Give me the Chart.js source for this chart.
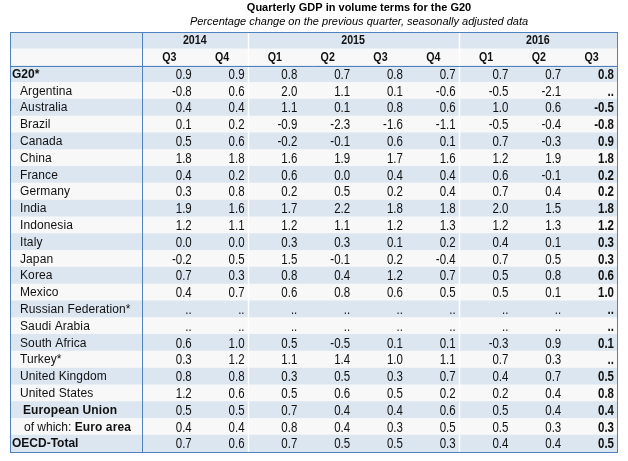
<!DOCTYPE html>
<html>
<head>
<meta charset="utf-8">
<script src="https://cdn.jsdelivr.net/npm/chart.js@4.4.1/dist/chart.umd.min.js"></script>
<style>
  html, body { margin: 0; padding: 0; background: #fff; }
  #wrap { width: 628px; height: 461px; }
</style>
</head>
<body>
<div id="wrap"><canvas id="gdpTable"></canvas></div>
<script>
// table header
const title = 'Quarterly GDP in volume terms for the G20';
const subtitle = 'Percentage change on the previous quarter, seasonally adjusted data';
const years = ['2014', '2015', '2016'];
const yearSpans = [2, 4, 3];
const quarters = ['Q3', 'Q4', 'Q1', 'Q2', 'Q3', 'Q4', 'Q1', 'Q2', 'Q3'];

// rows
const countries = [
  'G20*', 'Argentina', 'Australia', 'Brazil', 'Canada', 'China', 'France', 'Germany',
  'India', 'Indonesia', 'Italy', 'Japan', 'Korea', 'Mexico', 'Russian Federation*',
  'Saudi Arabia', 'South Africa', 'Turkey*', 'United Kingdom', 'United States',
  'European Union', 'Euro area', 'OECD-Total'
];

// values per quarter, null = not available ("..")
const q3_2014 = [0.9, -0.8, 0.4, 0.1, 0.5, 1.8, 0.4, 0.3, 1.9, 1.2, 0.0, -0.2, 0.7, 0.4, null, null, 0.6, 0.3, 0.8, 1.2, 0.5, 0.4, 0.7];
const q4_2014 = [0.9, 0.6, 0.4, 0.2, 0.6, 1.8, 0.2, 0.8, 1.6, 1.1, 0.0, 0.5, 0.3, 0.7, null, null, 1.0, 1.2, 0.8, 0.6, 0.5, 0.4, 0.6];
const q1_2015 = [0.8, 2.0, 1.1, -0.9, -0.2, 1.6, 0.6, 0.2, 1.7, 1.2, 0.3, 1.5, 0.8, 0.6, null, null, 0.5, 1.1, 0.3, 0.5, 0.7, 0.8, 0.7];
const q2_2015 = [0.7, 1.1, 0.1, -2.3, -0.1, 1.9, 0.0, 0.5, 2.2, 1.1, 0.3, -0.1, 0.4, 0.8, null, null, -0.5, 1.4, 0.5, 0.6, 0.4, 0.4, 0.5];
const q3_2015 = [0.8, 0.1, 0.8, -1.6, 0.6, 1.7, 0.4, 0.2, 1.8, 1.2, 0.1, 0.2, 1.2, 0.6, null, null, 0.1, 1.0, 0.3, 0.5, 0.4, 0.3, 0.5];
const q4_2015 = [0.7, -0.6, 0.6, -1.1, 0.1, 1.6, 0.4, 0.4, 1.8, 1.3, 0.2, -0.4, 0.7, 0.5, null, null, 0.1, 1.1, 0.7, 0.2, 0.6, 0.5, 0.3];
const q1_2016 = [0.7, -0.5, 1.0, -0.5, 0.7, 1.2, 0.6, 0.7, 2.0, 1.2, 0.4, 0.7, 0.5, 0.5, null, null, -0.3, 0.7, 0.4, 0.2, 0.5, 0.5, 0.4];
const q2_2016 = [0.7, -2.1, 0.6, -0.4, -0.3, 1.9, -0.1, 0.4, 1.5, 1.3, 0.1, 0.5, 0.8, 0.1, null, null, 0.9, 0.3, 0.7, 0.4, 0.4, 0.3, 0.4];
const q3_2016 = [0.8, null, -0.5, -0.8, 0.9, 1.8, 0.2, 0.2, 1.8, 1.2, 0.3, 0.3, 0.6, 1.0, null, null, 0.1, null, 0.5, 0.8, 0.4, 0.3, 0.5];

const columns = [q3_2014, q4_2014, q1_2015, q2_2015, q3_2015, q4_2015, q1_2016, q2_2016, q3_2016];

const LABEL_COL = -2.5; // label column width, in data-column units
const BLUE = '#4f81bd';
const TXT_FONT = '"Liberation Sans", Arial, sans-serif';
const NARROW = 0.82; // Arial Narrow is Arial squeezed to ~82 %

const rowKeys = ['year', 'quarter'].concat(countries);

// no narrow face installed, so squeeze the regular one
function narrowText(ctx, txt, px, py, align) {
  ctx.save();
  ctx.translate(px, py);
  ctx.scale(NARROW, 1);
  ctx.textAlign = align;
  ctx.fillText(txt, 0, 0);
  ctx.restore();
}

const tablePlugin = {
  id: 'tablePlugin',
  afterDatasetsDraw(chart) {
    const { ctx, scales: { x, y }, chartArea: a } = chart;
    const rowH = y.getPixelForValue(1) - y.getPixelForValue(0);
    ctx.save();

    // white separators between the years
    ctx.strokeStyle = '#ffffff';
    ctx.lineWidth = 1.5;
    let s = 0;
    yearSpans.slice(0, -1).forEach(span => {
      s += span;
      const px = Math.round(x.getPixelForValue(s)) + 0.5;
      ctx.beginPath(); ctx.moveTo(px, a.top); ctx.lineTo(px, a.bottom); ctx.stroke();
    });

    // blue lines: label column, header bottom, outer frame
    ctx.strokeStyle = BLUE;
    ctx.lineWidth = 1;
    const lx = Math.round(x.getPixelForValue(0)) + 0.5;
    ctx.beginPath(); ctx.moveTo(lx, a.top); ctx.lineTo(lx, a.bottom); ctx.stroke();
    const hy = Math.round(y.getPixelForValue(1) + rowH / 2) + 0.5;
    ctx.beginPath(); ctx.moveTo(a.left, hy); ctx.lineTo(a.right, hy); ctx.stroke();
    ctx.strokeRect(Math.round(a.left) + 0.5, Math.round(a.top) + 0.5,
      Math.round(a.right - a.left), Math.round(a.bottom - a.top));

    ctx.fillStyle = '#111111';
    ctx.textBaseline = 'middle';

    // year row
    ctx.font = 'bold 13px ' + TXT_FONT;
    s = 0;
    years.forEach((yr, i) => {
      const cx = (x.getPixelForValue(s) + x.getPixelForValue(s + yearSpans[i])) / 2;
      narrowText(ctx, yr, cx, y.getPixelForValue(0) + 0.5, 'center');
      s += yearSpans[i];
    });

    // quarter row
    quarters.forEach((q, i) => {
      narrowText(ctx, q, x.getPixelForValue(i + 0.5) + 1, y.getPixelForValue(1) + 0.5, 'center');
    });

    // row labels
    ctx.textAlign = 'left';
    const x0 = x.getPixelForValue(LABEL_COL);
    countries.forEach((name, r) => {
      const py = y.getPixelForValue(r + 2) + 0.5;
      ctx.letterSpacing = '0.1px';
      if (name === 'G20*' || name === 'OECD-Total') {
        ctx.letterSpacing = '0px';
        ctx.font = 'bold 12px ' + TXT_FONT;
        ctx.fillText(name, x0 + 2, py);
      } else if (name === 'European Union') {
        ctx.font = 'bold 12px ' + TXT_FONT;
        ctx.fillText(name, x0 + 13, py);
      } else if (name === 'Euro area') {
        ctx.font = '12px ' + TXT_FONT;
        ctx.letterSpacing = '0px';
        const pre = 'of which: ';
        ctx.fillText(pre, x0 + 14, py);
        const w = ctx.measureText(pre).width;
        ctx.font = 'bold 12px ' + TXT_FONT;
        ctx.letterSpacing = '0.1px';
        ctx.fillText(name, x0 + 14 + w, py);
      } else {
        ctx.font = '12px ' + TXT_FONT;
        ctx.fillText(name, x0 + 10, py);
      }
    });
    ctx.letterSpacing = '0px';

    // values, right aligned in their column; last quarter in bold
    columns.forEach((col, c) => {
      ctx.font = (c === columns.length - 1 ? 'bold ' : '') + '14px ' + TXT_FONT;
      col.forEach((v, r) => {
        const txt = v === null ? '..' : v.toFixed(1);
        narrowText(ctx, txt, x.getPixelForValue(c + 1) - 3, y.getPixelForValue(r + 2) + 1, 'right');
      });
    });

    ctx.restore();
  },
  afterDraw(chart) {
    const { ctx } = chart;
    ctx.save();
    ctx.fillStyle = '#000000';
    ctx.textAlign = 'center';
    ctx.textBaseline = 'middle';
    ctx.font = 'bold 11px ' + TXT_FONT;
    ctx.fillText(title, 359, 8);
    ctx.font = 'italic 11px ' + TXT_FONT;
    ctx.fillText(subtitle, 359, 22);
    ctx.restore();
  }
};

new Chart(document.getElementById('gdpTable'), {
  type: 'bar',
  data: {
    labels: rowKeys,
    datasets: [{
      // one full-width band per row gives the striped background
      data: rowKeys.map(() => [LABEL_COL, columns.length]),
      backgroundColor: rowKeys.map((k, i) => (i % 2 === 0 ? '#dce6f1' : '#f8f8f8')),
      borderWidth: 0,
      barPercentage: 1,
      categoryPercentage: 1
    }]
  },
  options: {
    indexAxis: 'y',
    responsive: true,
    maintainAspectRatio: false,
    animation: false,
    layout: { padding: { left: 10, right: 11, top: 32, bottom: 9 } },
    plugins: {
      legend: { display: false },
      tooltip: { enabled: false },
      title: { display: false }
    },
    scales: {
      x: { type: 'linear', min: LABEL_COL, max: columns.length, display: false },
      y: { type: 'category', display: false, offset: true }
    }
  },
  plugins: [tablePlugin]
});
</script>
</body>
</html>
